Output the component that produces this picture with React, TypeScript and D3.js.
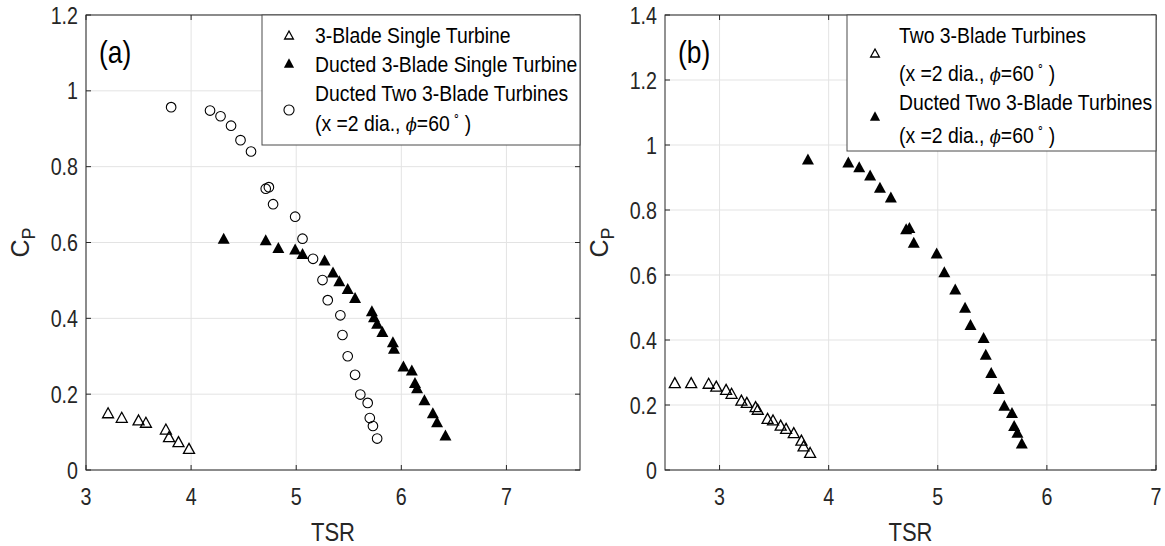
import React from "react";
import * as d3 from "d3";

// panel (a) data
const singleTSR = [3.21, 3.34, 3.5, 3.57, 3.76, 3.79, 3.88, 3.98];
const singleCp = [0.151, 0.139, 0.132, 0.126, 0.108, 0.088, 0.075, 0.057];

const ductedSingleTSR = [
  4.31, 4.71, 4.83, 4.99, 5.06, 5.27, 5.35, 5.41, 5.49, 5.56, 5.72, 5.74, 5.77,
  5.82, 5.92, 5.93, 6.02, 6.1, 6.13, 6.15, 6.22, 6.3, 6.34, 6.42,
];
const ductedSingleCp = [
  0.611, 0.607, 0.587, 0.583, 0.571, 0.554, 0.522, 0.499, 0.479, 0.455, 0.42,
  0.404, 0.387, 0.365, 0.338, 0.321, 0.274, 0.264, 0.231, 0.217, 0.185, 0.151,
  0.127, 0.092,
];

// same ducted two-turbine set shows in both panels
const ductedTwoTSR = [
  3.81, 4.18, 4.28, 4.38, 4.47, 4.57, 4.71, 4.74, 4.78, 4.99, 5.06, 5.16, 5.25,
  5.3, 5.42, 5.44, 5.49, 5.56, 5.61, 5.68, 5.7, 5.73, 5.77,
];
const ductedTwoCp = [
  0.957, 0.948, 0.933, 0.908, 0.87, 0.84, 0.742, 0.746, 0.701, 0.668, 0.61,
  0.557, 0.501, 0.448, 0.408, 0.356, 0.3, 0.251, 0.199, 0.177, 0.137, 0.116,
  0.083,
];

// panel (b) open triangles
const twoTSR = [
  2.59, 2.74, 2.9, 2.97, 3.06, 3.11, 3.2, 3.25, 3.33, 3.35, 3.44, 3.49, 3.56,
  3.61, 3.68, 3.75, 3.77, 3.83,
];
const twoCp = [
  0.269, 0.269, 0.267, 0.258, 0.248, 0.236, 0.215, 0.208, 0.195, 0.187, 0.159,
  0.154, 0.138, 0.128, 0.115, 0.092, 0.074, 0.054,
];

const xTicks = [3, 4, 5, 6, 7];
const yTicksA = [0, 0.2, 0.4, 0.6, 0.8, 1, 1.2];
const yTicksB = [0, 0.2, 0.4, 0.6, 0.8, 1, 1.2, 1.4];

const FONT = "'Liberation Sans', Arial, sans-serif";
const AX = "#262626";
const GRID = "#e3e3e3";

const tri = (w, h) => `M0,${-h / 2}L${w / 2},${h / 2}L${-w / 2},${h / 2}Z`;

// no narrow font installed, so squeeze horizontally
function NText({ x, y, sx = 0.88, rot = 0, children, ...rest }) {
  const tr = rot ? `translate(${x},${y}) rotate(${rot}) scale(${sx},1)` : `translate(${x},${y}) scale(${sx},1)`;
  return (
    <text transform={tr} {...rest}>
      {children}
    </text>
  );
}

function Marker({ kind, x, y, s = 1 }) {
  if (kind === "circle")
    return <circle cx={x} cy={y} r={4.8 * s} fill="none" stroke="#000" strokeWidth={1.1} />;
  if (kind === "open")
    return (
      <path d={tri(11 * s, 10 * s)} transform={`translate(${x},${y})`} fill="none" stroke="#000" strokeWidth={1.3} />
    );
  return <path d={tri(12 * s, 11 * s)} transform={`translate(${x},${y})`} fill="#000" />;
}

function PhiLine({ x, y }) {
  return (
    <NText x={x} y={y} sx={0.9}>
      (x =2 dia.,{" "}
      <tspan fontFamily="'DejaVu Serif', serif" fontStyle="italic" fontSize={18}>
        ϕ
      </tspan>
      =60
      <tspan dy={-11} fontSize={12}>
        {" "}∘
      </tspan>
      <tspan dy={11}> )</tspan>
    </NText>
  );
}

function Panel({ left, right, top, bottom, xDomain, yDomain, yTicks, tag, series, legend }) {
  const x = d3.scaleLinear().domain(xDomain).range([left, right]);
  const y = d3.scaleLinear().domain(yDomain).range([bottom, top]);
  const fmt = (v) => String(+v.toFixed(1));
  const tk = 5;
  return (
    <g>
      {xTicks.map((t) => (
        <line key={"gx" + t} x1={x(t)} x2={x(t)} y1={top} y2={bottom} stroke={GRID} />
      ))}
      {yTicks.map((t) => (
        <line key={"gy" + t} x1={left} x2={right} y1={y(t)} y2={y(t)} stroke={GRID} />
      ))}
      {series.map((s, i) =>
        s.tsr.map((v, j) => <Marker key={i + "-" + j} kind={s.kind} x={x(v)} y={y(s.cp[j])} />)
      )}
      <rect x={left} y={top} width={right - left} height={bottom - top} fill="none" stroke={AX} />
      {xTicks.map((t) => (
        <g key={"tx" + t}>
          <line x1={x(t)} x2={x(t)} y1={bottom} y2={bottom - tk} stroke={AX} />
          <line x1={x(t)} x2={x(t)} y1={top} y2={top + tk} stroke={AX} />
          <NText x={x(t)} y={bottom + 35} sx={0.82} textAnchor="middle" fontSize={24} fill={AX}>
            {fmt(t)}
          </NText>
        </g>
      ))}
      {yTicks.map((t) => (
        <g key={"ty" + t}>
          <line x1={left} x2={left + tk} y1={y(t)} y2={y(t)} stroke={AX} />
          <line x1={right} x2={right - tk} y1={y(t)} y2={y(t)} stroke={AX} />
          <NText x={left - 8} y={y(t) + 8.5} sx={0.82} textAnchor="end" fontSize={24} fill={AX}>
            {fmt(t)}
          </NText>
        </g>
      ))}
      <NText x={(left + right) / 2} y={bottom + 71} sx={0.88} textAnchor="middle" fontSize={25} fill={AX}>
        TSR
      </NText>
      <NText x={left - 57} y={(top + bottom) / 2} rot={-90} sx={1} textAnchor="middle" fontSize={25} fill={AX}>
        C<tspan fontSize={18} dy={6}>P</tspan>
      </NText>
      <NText x={left + 13} y={top + 48} sx={0.85} fontSize={31} fill="#000">
        {tag}
      </NText>
      {legend}
    </g>
  );
}

export default function App() {
  const legendA = (
    <g fontSize={21.5} fill="#000">
      <rect x={262} y={15} width={318} height={130} fill="#fff" stroke="#4a4a4a" />
      <Marker kind="open" x={289} y={35} s={0.8} />
      <Marker kind="filled" x={289} y={63} s={0.85} />
      <Marker kind="circle" x={289} y={110} s={1.05} />
      <NText x={315} y={43} sx={0.9}>3-Blade Single Turbine</NText>
      <NText x={315} y={72} sx={0.9}>Ducted 3-Blade Single Turbine</NText>
      <NText x={315} y={101} sx={0.9}>Ducted Two 3-Blade Turbines</NText>
      <PhiLine x={315} y={131} />
    </g>
  );
  const legendB = (
    <g fontSize={21.5} fill="#000">
      <rect x={847} y={15} width={309} height={136} fill="#fff" stroke="#4a4a4a" />
      <Marker kind="open" x={875} y={53} s={0.8} />
      <Marker kind="filled" x={875} y={116} s={0.85} />
      <NText x={899} y={43} sx={0.9}>Two 3-Blade Turbines</NText>
      <PhiLine x={899} y={81} />
      <NText x={899} y={110} sx={0.9}>Ducted Two 3-Blade Turbines</NText>
      <PhiLine x={899} y={143} />
    </g>
  );
  return (
    <svg
      width={1165}
      height={546}
      style={{ position: "absolute", left: 0, top: 0, background: "#fff" }}
      fontFamily={FONT}
    >
      <rect width={1165} height={546} fill="#fff" />
      <Panel
        left={86}
        right={580}
        top={15}
        bottom={470}
        xDomain={[3, 7.7]}
        yDomain={[0, 1.2]}
        yTicks={yTicksA}
        tag="(a)"
        series={[
          { kind: "open", tsr: singleTSR, cp: singleCp },
          { kind: "filled", tsr: ductedSingleTSR, cp: ductedSingleCp },
          { kind: "circle", tsr: ductedTwoTSR, cp: ductedTwoCp },
        ]}
        legend={legendA}
      />
      <Panel
        left={665}
        right={1156}
        top={15}
        bottom={470}
        xDomain={[2.5, 7]}
        yDomain={[0, 1.4]}
        yTicks={yTicksB}
        tag="(b)"
        series={[
          { kind: "open", tsr: twoTSR, cp: twoCp },
          { kind: "filled", tsr: ductedTwoTSR, cp: ductedTwoCp },
        ]}
        legend={legendB}
      />
    </svg>
  );
}
